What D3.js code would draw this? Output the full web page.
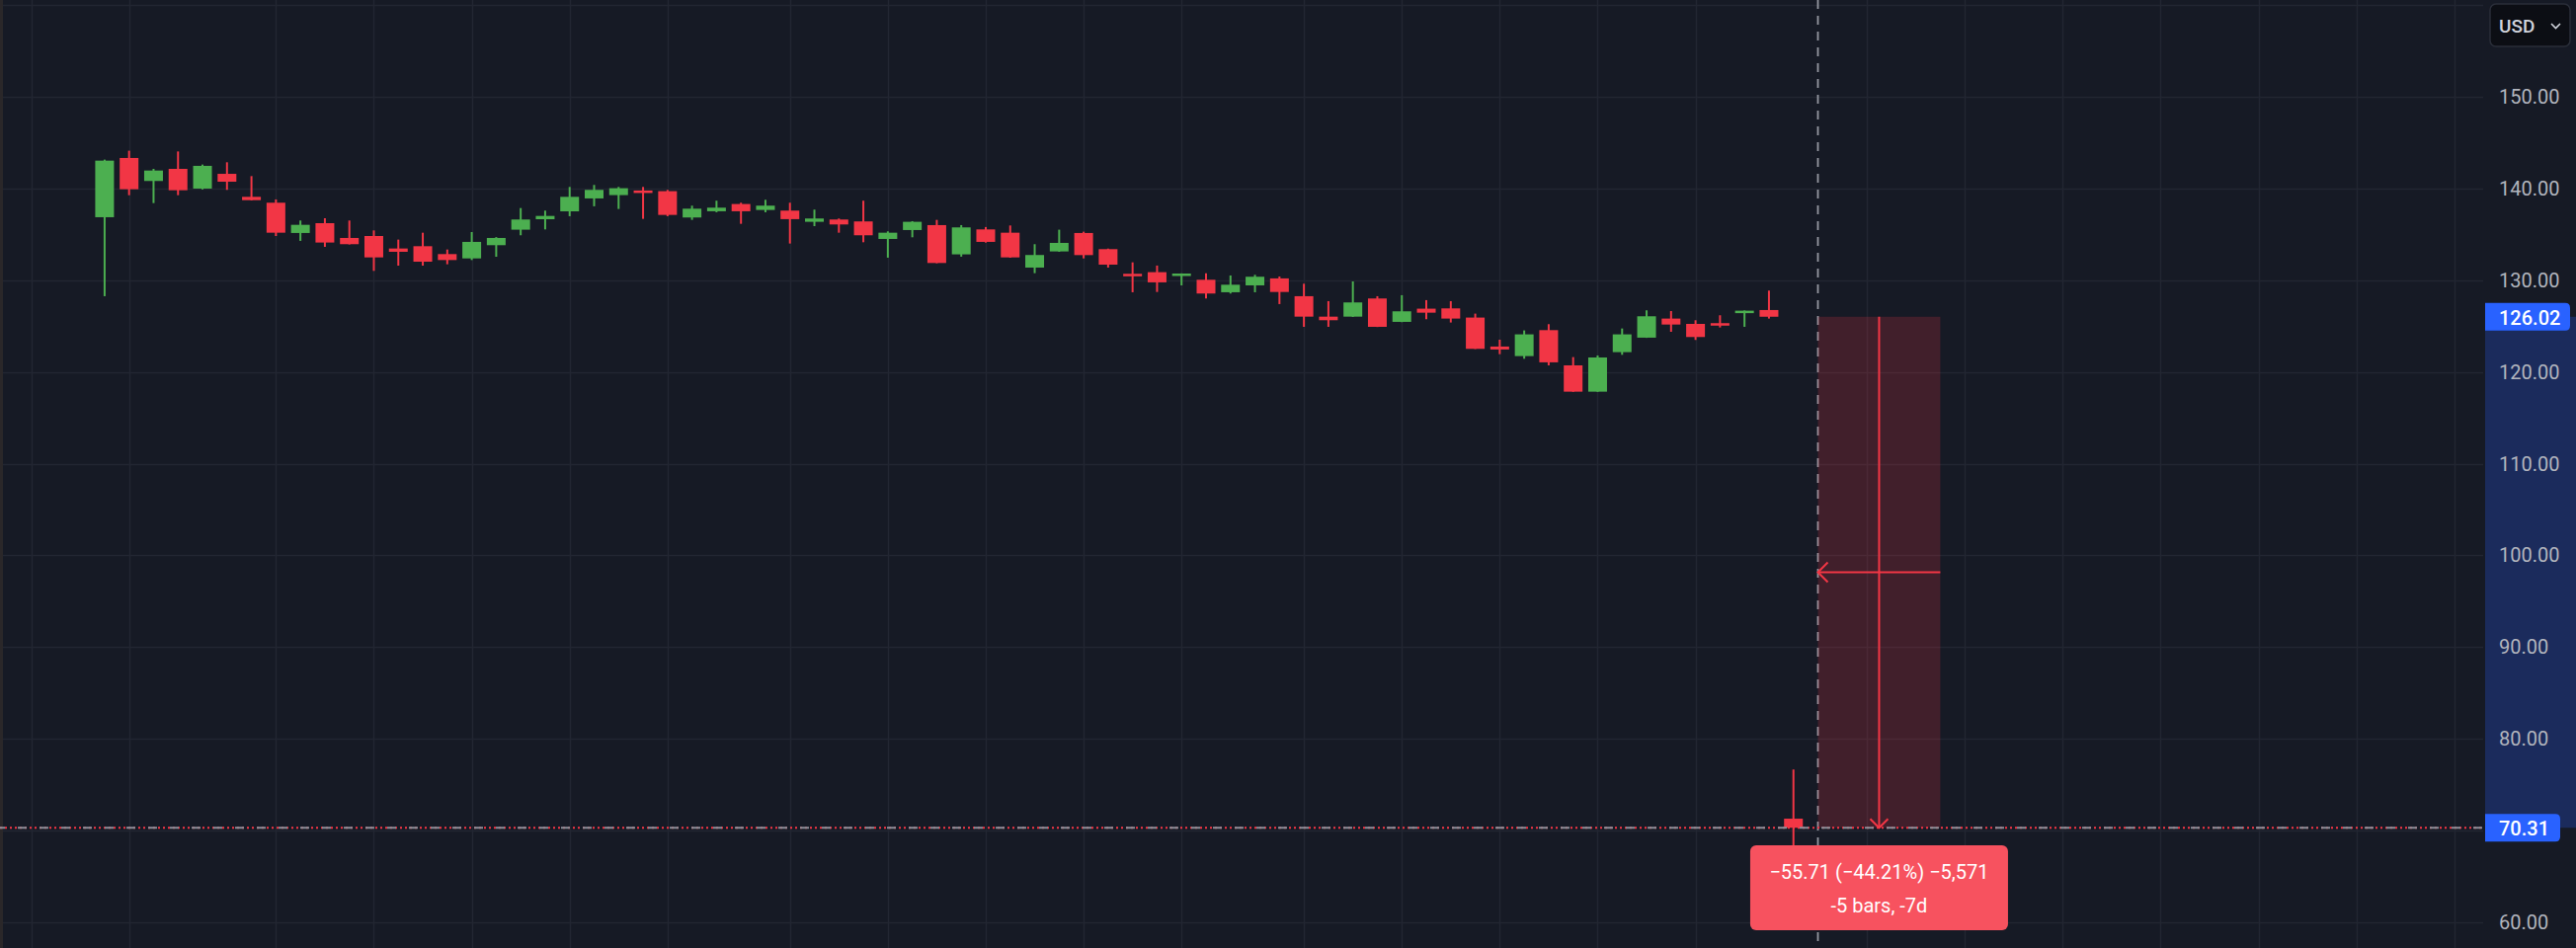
<!DOCTYPE html>
<html>
<head>
<meta charset="utf-8">
<script src="https://cdn.jsdelivr.net/npm/d3@7"></script>
<style>
html,body{margin:0;padding:0;background:#161a25;overflow:hidden;}
svg{display:block;}
</style>
</head>
<body>
<svg id="chart" width="2608" height="960"></svg>
<script>
// ---- data ----
const opens  = [136.87,143.33,140.82,142.14,139.99,141.60,139.09,138.45,135.15,136.22,
                134.61,134.82,133.46,133.71,132.85,132.38,133.82,135.51,136.65,137.51,
                138.92,139.28,139.78,139.71,136.84,137.52,138.31,137.66,137.59,136.37,
                136.62,136.41,134.50,135.47,136.01,132.82,135.54,135.18,131.38,133.14,
                135.15,133.39,130.70,130.88,130.52,130.05,128.69,129.44,130.20,128.26,
                126.03,126.03,128.01,125.46,126.90,126.93,125.93,122.77,121.73,124.56,
                120.72,117.85,122.16,123.74,125.82,125.24,125.32,126.46,126.75,71.30];
const highs  = [143.15,144.12,142.14,144.04,142.61,142.86,141.35,138.81,136.51,136.76,
                136.51,135.43,134.43,135.18,133.35,135.25,134.70,137.87,137.59,140.17,
                140.39,140.17,140.17,139.85,138.13,138.67,138.45,138.77,138.45,137.70,
                136.73,138.67,135.33,136.44,136.58,136.01,135.80,135.97,133.93,135.51,
                135.29,133.45,131.95,131.60,130.75,130.77,130.52,130.59,130.41,129.62,
                127.72,129.87,128.26,128.37,127.83,127.72,126.36,123.52,124.53,125.21,
                121.62,121.80,124.74,126.72,126.64,125.64,126.18,126.70,128.87,76.66];
const lows   = [128.26,139.27,138.41,139.27,139.90,139.85,138.70,134.82,134.29,133.64,
                133.90,131.02,131.59,131.59,131.74,132.20,132.56,134.90,135.54,136.98,
                138.06,137.77,136.69,136.98,136.58,137.41,136.15,137.41,134.00,135.90,
                135.18,134.14,132.46,134.68,131.85,132.57,134.10,132.45,130.77,133.10,
                132.38,131.38,128.69,128.72,129.44,128.01,128.55,128.69,127.40,124.92,
                124.92,126.00,124.90,125.43,125.75,125.39,122.50,121.94,121.44,120.72,
                117.83,117.83,121.87,123.72,124.38,123.49,124.85,124.92,125.82,68.40];
const closes = [143.04,139.92,141.96,139.81,142.47,140.74,138.73,135.18,136.04,134.11,
                133.93,132.49,133.10,132.02,132.20,134.18,134.61,136.62,137.01,139.09,
                139.85,140.03,139.56,137.12,137.80,137.91,137.52,138.13,136.66,136.73,
                136.08,134.90,135.18,136.37,131.88,135.76,134.18,132.49,132.75,134.07,
                132.74,131.70,130.48,129.77,130.73,128.55,129.51,130.38,128.72,126.03,
                125.64,127.58,124.92,126.61,126.46,125.82,122.52,122.45,124.10,121.05,
                117.85,121.58,124.10,126.07,125.17,123.81,125.14,126.68,126.02,70.31];
const priceTicks = [60,70,80,90,100,110,120,130,140,150,160];
const timeGridBars = [-3,1,7,11,15,19,23,28,32,36,40,44,49,53,57,61,65,72,76,80,84,88,92,96];

// measure tool
const measureFrom = {bar:75, price:126.02};
const measureTo   = {bar:70, price:70.31};
const measureLines = ["\u221255.71 (\u221244.21%) \u22125,571", "-5 bars, -7d"];
const currency = "USD";

// ---- layout ----
const W = 2608, H = 960;
const plotRight = 2514;
const bg = "#161a25", gridC = "#222632";
const upC = "#4caf50", downC = "#f23645";

const svg = d3.select("#chart");
const x = d3.scaleLinear().domain([0, 100]).range([105.9, 105.9 + 100 * 24.78]);
const y = d3.scaleLinear().domain([60, 150]).range([934, 98]);
const step = x(1) - x(0);
const bodyW = 19;

svg.append("rect").attr("width", W).attr("height", H).attr("fill", bg);

// grid
const grid = svg.append("g");
grid.selectAll("line.h").data(priceTicks).join("line")
  .attr("x1", 0).attr("x2", plotRight)
  .attr("y1", d => Math.round(y(d)) + 0.5).attr("y2", d => Math.round(y(d)) + 0.5)
  .attr("stroke", gridC).attr("stroke-width", 1.5);
grid.selectAll("line.v").data(timeGridBars).join("line")
  .attr("x1", d => Math.round(x(d)) + 0.5).attr("x2", d => Math.round(x(d)) + 0.5)
  .attr("y1", 0).attr("y2", H)
  .attr("stroke", gridC).attr("stroke-width", 1.5);

// left edge strip
svg.append("rect").attr("x", 0).attr("y", 0).attr("width", 3).attr("height", H).attr("fill", "#2a2729");

// crosshair (under measure box)
const crossX = x(measureTo.bar);
const crossY = y(measureTo.price);
svg.append("line").attr("x1", crossX).attr("x2", crossX).attr("y1", 0).attr("y2", H)
  .attr("stroke", "#9598a1").attr("stroke-width", 1.8).attr("stroke-dasharray", "9,7");

// candles
const candles = d3.range(opens.length).map(i => ({i, o: opens[i], h: highs[i], l: lows[i], c: closes[i]}));
const cg = svg.append("g");
cg.selectAll("line.wick").data(candles).join("line")
  .attr("x1", d => x(d.i)).attr("x2", d => x(d.i))
  .attr("y1", d => y(d.h)).attr("y2", d => y(d.l))
  .attr("stroke", d => d.c >= d.o ? upC : downC).attr("stroke-width", 2);
cg.selectAll("rect.body").data(candles).join("rect")
  .attr("x", d => x(d.i) - bodyW / 2).attr("width", bodyW)
  .attr("y", d => y(Math.max(d.o, d.c)))
  .attr("height", d => Math.max(2.5, Math.abs(y(d.o) - y(d.c))))
  .attr("fill", d => d.c >= d.o ? upC : downC);

// measure box
const bx1 = x(measureTo.bar), bx2 = x(measureFrom.bar);
const by1 = y(measureFrom.price), by2 = y(measureTo.price);
svg.append("rect").attr("x", bx1).attr("y", by1).attr("width", bx2 - bx1).attr("height", by2 - by1)
  .attr("fill", "rgba(242,54,69,0.2)");

// price lines at measured level
svg.append("line").attr("x1", 0).attr("x2", plotRight).attr("y1", crossY).attr("y2", crossY)
  .attr("stroke", downC).attr("stroke-width", 1.8).attr("stroke-dasharray", "2,3");
svg.append("line").attr("x1", 0).attr("x2", plotRight).attr("y1", crossY).attr("y2", crossY)
  .attr("stroke", "#8c8f99").attr("stroke-width", 1.8).attr("stroke-dasharray", "9,13").attr("stroke-dashoffset", 4);

// arrows
const midX = (bx1 + bx2) / 2, midY = (by1 + by2) / 2;
const ag = svg.append("g").attr("stroke", downC).attr("stroke-width", 2).attr("fill", "none");
ag.append("line").attr("x1", midX).attr("x2", midX).attr("y1", by1).attr("y2", by2);
ag.append("path").attr("d", `M${midX - 9},${by2 - 9}L${midX},${by2}L${midX + 9},${by2 - 9}`);
ag.append("line").attr("x1", bx2).attr("x2", bx1).attr("y1", midY).attr("y2", midY);
ag.append("path").attr("d", `M${bx1 + 10},${midY - 10}L${bx1},${midY}L${bx1 + 10},${midY + 10}`);

// tooltip
const tipW = 261, tipH = 86;
const tip = svg.append("g").attr("transform", `translate(${midX - tipW / 2},856)`);
tip.append("rect").attr("width", tipW).attr("height", tipH).attr("rx", 6).attr("fill", "#f7525f");
tip.selectAll("text").data(measureLines).join("text")
  .attr("x", tipW / 2).attr("y", (d, i) => 27 + i * 34)
  .attr("text-anchor", "middle").attr("dominant-baseline", "central")
  .attr("font-family", "Roboto, sans-serif").attr("font-size", 20)
  .attr("fill", "#ffffff").text(d => d);

// price axis
const ax = svg.append("g");
ax.append("rect").attr("x", plotRight + 2).attr("y", by1).attr("width", W - plotRight - 2).attr("height", by2 - by1)
  .attr("fill", "#1b2b5c");
ax.selectAll("text.tick").data(priceTicks.filter(d => d <= 150)).join("text")
  .attr("x", 2530).attr("y", d => y(d))
  .attr("dominant-baseline", "central")
  .attr("font-family", "Roboto, sans-serif").attr("font-size", 20)
  .attr("fill", "#b2b5be").text(d => d3.format(".2f")(d));

function priceLabel(v, w) {
  const g = ax.append("g").attr("transform", `translate(${plotRight + 2},${y(v)})`);
  g.append("path")
    .attr("d", `M0,-14H${w - 5}Q${w},-14 ${w},-9V9Q${w},14 ${w - 5},14H0Z`)
    .attr("fill", "#2962ff");
  g.append("text").attr("x", 14).attr("y", 1).attr("dominant-baseline", "central")
    .attr("font-family", "Roboto, sans-serif").attr("font-size", 20).attr("font-weight", 500)
    .attr("fill", "#ffffff").text(d3.format(".2f")(v));
}
priceLabel(measureFrom.price, 86);
priceLabel(measureTo.price, 76);

// currency button
const ub = svg.append("g").attr("transform", "translate(2521,4)");
ub.append("rect").attr("width", 81).attr("height", 43).attr("rx", 6)
  .attr("fill", "#0c0e14").attr("stroke", "#2a2e39").attr("stroke-width", 1.5);
ub.append("text").attr("x", 9).attr("y", 22).attr("dominant-baseline", "central")
  .attr("font-family", "Roboto, sans-serif").attr("font-size", 19).attr("font-weight", 500)
  .attr("fill", "#d1d4dc").text(currency);
ub.append("path").attr("d", "M62,20L66.5,24.5L71,20").attr("fill", "none")
  .attr("stroke", "#d1d4dc").attr("stroke-width", 1.6);
</script>
</body>
</html>
